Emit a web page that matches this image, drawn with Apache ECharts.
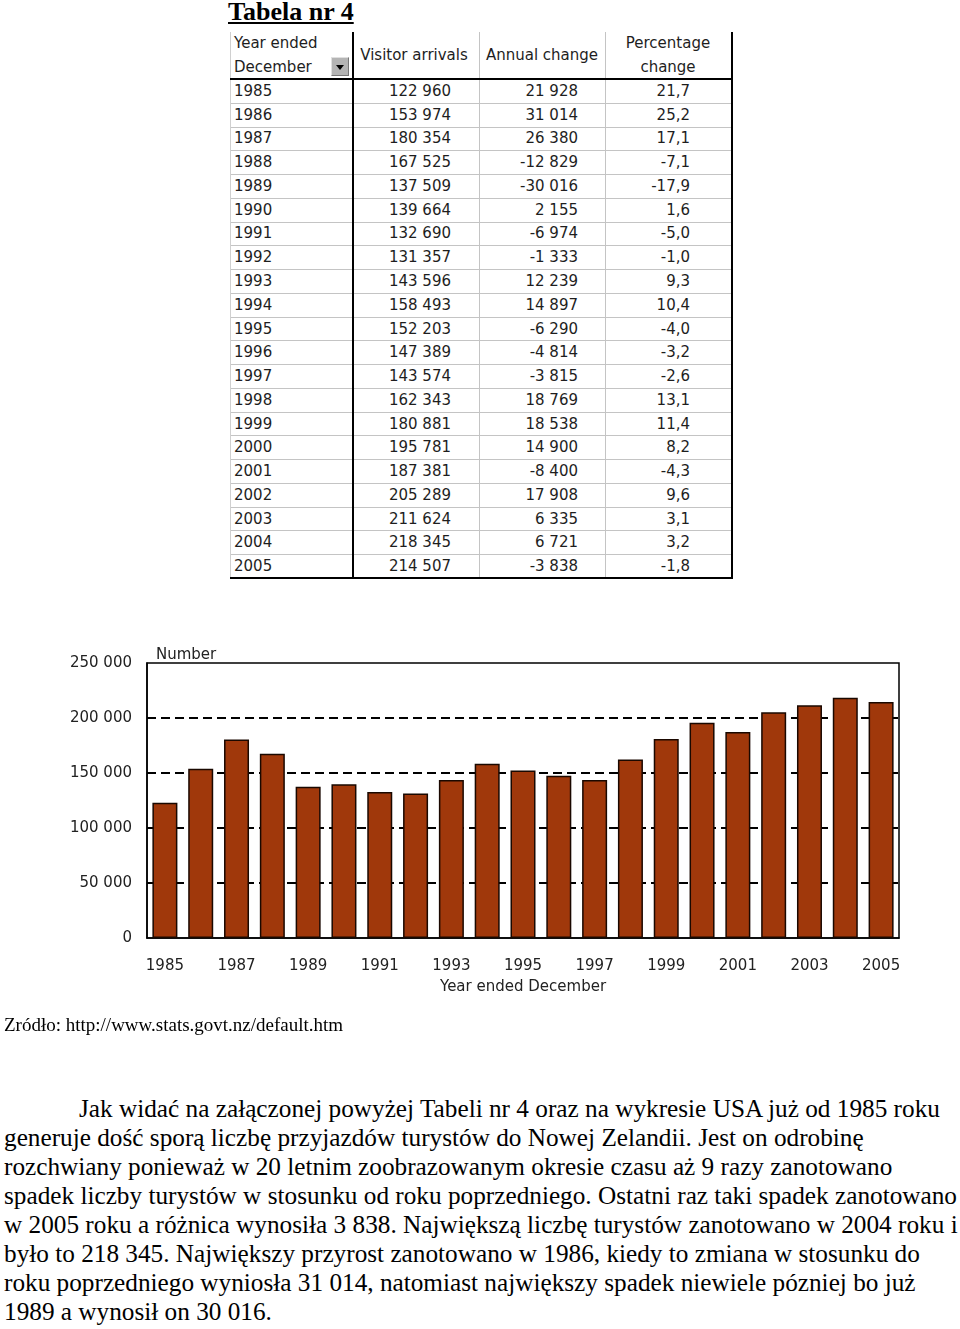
<!DOCTYPE html>
<html><head><meta charset="utf-8">
<script src="https://cdn.jsdelivr.net/npm/echarts@6/dist/echarts.min.js"></script>
<style>
html,body{margin:0;padding:0;background:#fff;}
body{width:960px;height:1329px;position:relative;overflow:hidden;}
.t{position:absolute;white-space:nowrap;line-height:20px;height:20px;}
#title{position:absolute;left:228px;top:-3px;font:bold 26px "Liberation Serif";text-decoration:underline;color:#000;white-space:nowrap;}
#tbl{position:absolute;left:0;top:0;width:960px;height:600px;font-family:"DejaVu Sans";font-size:15px;color:#1e1e1e;}
.ln{position:absolute;}
#chart{position:absolute;left:0;top:620px;width:960px;height:400px;}
#src{position:absolute;left:4px;top:1014px;font:19px "Liberation Serif";color:#000;white-space:nowrap;}
.p{position:absolute;left:4px;font:25.25px "Liberation Serif";color:#000;white-space:nowrap;line-height:29px;}
</style></head>
<body>
<div id="title">Tabela nr 4</div>
<div id="tbl"></div>
<div id="chart"></div>
<div id="src">Zródło: http://www.stats.govt.nz/default.htm</div>
<div id="para"></div>
<script>
// ---- data ----
const years = ['1985','1986','1987','1988','1989','1990','1991','1992','1993','1994','1995','1996','1997','1998','1999','2000','2001','2002','2003','2004','2005'];
const arrivals = [122960,153974,180354,167525,137509,139664,132690,131357,143596,158493,152203,147389,143574,162343,180881,195781,187381,205289,211624,218345,214507];
const annualChange = [21928,31014,26380,-12829,-30016,2155,-6974,-1333,12239,14897,-6290,-4814,-3815,18769,18538,14900,-8400,17908,6335,6721,-3838];
const pctChange = [21.7,25.2,17.1,-7.1,-17.9,1.6,-5.0,-1.0,9.3,10.4,-4.0,-3.2,-2.6,13.1,11.4,8.2,-4.3,9.6,3.1,3.2,-1.8];
const headers = [['Year ended','December'],['Visitor arrivals'],['Annual change'],['Percentage','change']];
const yTicks = [0,50000,100000,150000,200000,250000];
const paragraph = [
 'Jak widać na załączonej powyżej Tabeli nr 4 oraz na wykresie USA już od 1985 roku',
 'generuje dość sporą liczbę przyjazdów turystów do Nowej Zelandii. Jest on odrobinę',
 'rozchwiany ponieważ w 20 letnim zoobrazowanym okresie czasu aż 9 razy zanotowano',
 'spadek liczby turystów w stosunku od roku poprzedniego. Ostatni raz taki spadek zanotowano',
 'w 2005 roku a różnica wynosiła 3 838. Największą liczbę turystów zanotowano w 2004 roku i',
 'było to 218 345. Największy przyrost zanotowano w 1986, kiedy to zmiana w stosunku do',
 'roku poprzedniego wyniosła 31 014, natomiast największy spadek niewiele pózniej bo już',
 '1989 a wynosił on 30 016.'
];

function fmt(n){ return (n<0?'-':'') + Math.abs(n).toString().replace(/\B(?=(\d{3})+(?!\d))/g,' '); }
function fmtPct(n){ return n.toFixed(1).replace('.',','); }

// ---- table ----
const tbl = document.getElementById('tbl');
function line(x,y,w,h,c){ const d=document.createElement('div'); d.className='ln'; d.style.cssText=`left:${x}px;top:${y}px;width:${w}px;height:${h}px;background:${c}`; tbl.appendChild(d); }
function text(s,x,y,align){ const d=document.createElement('div'); d.className='t'; d.textContent=s;
  d.style.top=(y-10)+'px';
  if(align==='left'){ d.style.left=x+'px'; }
  else if(align==='right'){ d.style.right=(960-x)+'px'; }
  else { d.style.left=(x-150)+'px'; d.style.width='300px'; d.style.textAlign='center'; }
  tbl.appendChild(d); }
const T=32, HB=79, B=578, L=230, R=732;
const rh=(B-HB)/years.length;
for(let i=1;i<years.length;i++) line(L,Math.round(HB+i*rh),R-L,1,'#c4c4c4');
line(L,T,1,B-T,'#d0d0d0');
line(479,T,1,B-T,'#c4c4c4');
line(605,T,1,B-T,'#c4c4c4');
line(352,T,2,B-T+1,'#000');
line(731,T,2,B-T+1,'#000');
line(L,HB-1,R-L+1,2,'#000');
line(L,B-1,R-L+1,2,'#000');
// headers
text(headers[0][0],234,43,'left'); text(headers[0][1],234,67,'left');
text(headers[1][0],414,55,'center');
text(headers[2][0],542,55,'center');
text(headers[3][0],668,43,'center'); text(headers[3][1],668,67,'center');
// dropdown button
const btn=document.createElement('div');
btn.style.cssText='position:absolute;left:331px;top:57px;width:18px;height:19px;background:#b4b4b4;border-top:1px solid #e0e0e0;border-left:1px solid #e0e0e0;border-right:1px solid #777;border-bottom:1px solid #777;box-sizing:border-box;';
const tri=document.createElement('div');
tri.style.cssText='position:absolute;left:4px;top:7px;width:0;height:0;border-left:4px solid transparent;border-right:4px solid transparent;border-top:5px solid #000;';
btn.appendChild(tri); tbl.appendChild(btn);
for(let i=0;i<years.length;i++){
  const cy=HB+(i+0.5)*rh;
  text(years[i],234,cy,'left');
  text(fmt(arrivals[i]),451,cy,'right');
  text(fmt(annualChange[i]),578,cy,'right');
  text(fmtPct(pctChange[i]),690,cy,'right');
}

// ---- paragraph ----
const para=document.getElementById('para');
paragraph.forEach((s,i)=>{ const d=document.createElement('div'); d.className='p'; d.textContent=s;
  d.style.top=(1094+i*29)+'px'; if(i===0) d.style.left='79px'; para.appendChild(d); });

// ---- chart ----
const chart = echarts.init(document.getElementById('chart'), null, {renderer:'canvas'});
const font = 'DejaVu Sans';
chart.setOption({
  animation:false,
  backgroundColor:'transparent',
  title:{text:'Number', left:156, top:28, padding:0,
    textStyle:{fontFamily:font,fontSize:15,fontWeight:'normal',color:'#222'}},
  grid:{left:147, top:43, width:752, height:275, show:true, borderColor:'#000', borderWidth:1.5, backgroundColor:'transparent', containLabel:false},
  xAxis:{type:'category', data:years,
    axisLine:{show:true,lineStyle:{color:'#000',width:1.5}},
    axisTick:{show:false},
    axisLabel:{interval:1, margin:21, fontFamily:font, fontSize:15, color:'#222'},
    name:'Year ended December', nameLocation:'middle', nameGap:42,
    nameTextStyle:{fontFamily:font, fontSize:15, color:'#222'}},
  yAxis:{type:'value', min:yTicks[0], max:yTicks[yTicks.length-1], interval:yTicks[1]-yTicks[0],
    axisLine:{show:true,lineStyle:{color:'#000',width:1.5}},
    axisTick:{show:false},
    axisLabel:{margin:15, fontFamily:font, fontSize:15, color:'#222', formatter:v=>fmt(v)},
    splitLine:{show:true, showMinLine:false, showMaxLine:false, lineStyle:{color:'#000', type:[9,5], width:2}}},
  series:[{type:'bar', data:arrivals, barWidth:25,
    itemStyle:{color:'#a0380b', borderColor:'#1a0800', borderWidth:1.5}}]
});
</script>
</body></html>
